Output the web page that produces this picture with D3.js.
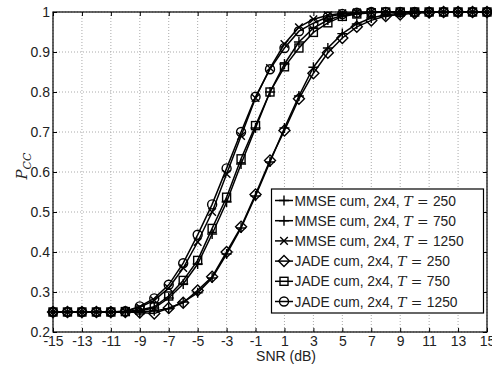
<!DOCTYPE html>
<html>
<head>
<meta charset="utf-8">
<script src="https://cdn.jsdelivr.net/npm/d3@7"></script>
<style>
body { margin: 0; background: #fff; }
text { font-family: "Liberation Sans", "DejaVu Sans", sans-serif; fill: #222; }
</style>
</head>
<body>
<script>
// SNR values (dB)
var snr = [-15,-14,-13,-12,-11,-10,-9,-8,-7,-6,-5,-4,-3,-2,-1,0,1,2,3,4,5,6,7,8,9,10,11,12,13,14,15];

var mmse250  = [0.25,0.25,0.25,0.25,0.25,0.25,0.25,0.253,0.258,0.275,0.298,0.335,0.395,0.46,0.54,0.625,0.71,0.79,0.862,0.91,0.946,0.97,0.985,0.993,0.997,0.999,1,1,1,1,1];
var mmse750  = [0.25,0.25,0.25,0.25,0.25,0.25,0.253,0.26,0.285,0.32,0.37,0.445,0.525,0.62,0.71,0.80,0.87,0.925,0.96,0.98,0.991,0.996,0.999,1,1,1,1,1,1,1,1];
var mmse1250 = [0.25,0.25,0.25,0.25,0.25,0.252,0.262,0.279,0.31,0.36,0.425,0.50,0.595,0.69,0.785,0.86,0.92,0.962,0.982,0.992,0.997,0.999,1,1,1,1,1,1,1,1,1];
var jade250  = [0.25,0.25,0.25,0.25,0.25,0.25,0.249,0.246,0.26,0.273,0.304,0.338,0.40,0.463,0.544,0.629,0.704,0.783,0.847,0.898,0.935,0.963,0.979,0.99,0.994,0.997,0.999,1,1,1,1];
var jade750  = [0.25,0.25,0.25,0.25,0.25,0.251,0.255,0.263,0.29,0.329,0.379,0.459,0.537,0.633,0.716,0.80,0.863,0.91,0.949,0.973,0.989,0.995,0.998,1,1,1,1,1,1,1,1];
var jade1250 = [0.25,0.25,0.25,0.25,0.25,0.252,0.264,0.284,0.318,0.372,0.443,0.519,0.609,0.70,0.788,0.857,0.91,0.952,0.972,0.988,0.995,0.998,1,1,1,1,1,1,1,1,1];

var seriesNames = ["MMSE cum, 2x4, ","MMSE cum, 2x4, ","MMSE cum, 2x4, ","JADE cum, 2x4, ","JADE cum, 2x4, ","JADE cum, 2x4, "];
var seriesT = ["250","750","1250","250","750","1250"];
var seriesMarkers = ["plus","plus","cross","diamond","square","circle"];
var seriesData = [mmse250, mmse750, mmse1250, jade250, jade750, jade1250];

var xTicks = [-15,-13,-11,-9,-7,-5,-3,-1,1,3,5,7,9,11,13,15];
var yTicks = [0.2,0.3,0.4,0.5,0.6,0.7,0.8,0.9,1];

var W = 492, H = 367;
var margin = {top: 12, right: 5, bottom: 35, left: 53};
var w = W - margin.left - margin.right, h = H - margin.top - margin.bottom;

var svg = d3.select("body").append("svg").attr("width", W).attr("height", H);
var g = svg.append("g").attr("transform", "translate(" + margin.left + "," + margin.top + ")");

var x = d3.scaleLinear().domain([-15, 15]).range([0, w]);
var y = d3.scaleLinear().domain([0.2, 1]).range([h, 0]);

// grid
g.selectAll(".gx").data(xTicks).enter().append("line")
  .attr("x1", d => x(d)).attr("x2", d => x(d)).attr("y1", 0).attr("y2", h)
  .attr("stroke", "#aaa").attr("stroke-width", 1).attr("stroke-dasharray", "1,2");
g.selectAll(".gy").data(yTicks).enter().append("line")
  .attr("y1", d => y(d)).attr("y2", d => y(d)).attr("x1", 0).attr("x2", w)
  .attr("stroke", "#aaa").attr("stroke-width", 1).attr("stroke-dasharray", "1,2");

// axes (ticks inward)
g.append("g").attr("transform", "translate(0," + h + ")")
  .call(d3.axisBottom(x).tickValues(xTicks).tickSize(-4).tickPadding(4).tickFormat(d => String(d)));
g.append("g")
  .call(d3.axisLeft(y).tickValues(yTicks).tickSize(-4).tickPadding(3).tickFormat(d => d === 1 ? "1" : d3.format(".1f")(d)));
g.append("g").call(d3.axisTop(x).tickValues(xTicks).tickSize(-4).tickFormat(""));
g.append("g").attr("transform", "translate(" + w + ",0)").call(d3.axisRight(y).tickValues(yTicks).tickSize(-4).tickFormat(""));
g.selectAll(".domain").attr("stroke", "none");
g.selectAll(".tick line").attr("stroke", "#000");
g.selectAll(".tick text").attr("font-size", 14).attr("fill", "#222")
  .style("font-family", '"Liberation Sans", sans-serif');

// frame
g.append("rect").attr("width", w).attr("height", h).attr("fill", "none").attr("stroke", "#000").attr("stroke-width", 1.2);

function marker(sel, type) {
  if (type === "circle") {
    sel.append("circle").attr("r", 4.5);
  } else if (type === "square") {
    sel.append("rect").attr("x", -4).attr("y", -4).attr("width", 8).attr("height", 8);
  } else if (type === "diamond") {
    sel.append("path").attr("d", "M0,-5.5L5.5,0L0,5.5L-5.5,0Z");
  } else if (type === "plus") {
    sel.append("path").attr("d", "M-5,0H5M0,-5V5");
  } else if (type === "cross") {
    sel.append("path").attr("d", "M-3.8,-3.8L3.8,3.8M-3.8,3.8L3.8,-3.8");
  }
  sel.selectAll("*").attr("fill", "none").attr("stroke", "#000").attr("stroke-width", 1.4);
}

var line = d3.line().x((d, i) => x(snr[i])).y(d => y(d));

seriesData.forEach(function(vals, k) {
  g.append("path").datum(vals).attr("d", line)
    .attr("fill", "none").attr("stroke", "#000").attr("stroke-width", 1.5);
  g.selectAll(".m" + k).data(vals).enter().append("g")
    .attr("transform", (d, i) => "translate(" + x(snr[i]) + "," + y(d) + ")")
    .each(function() { marker(d3.select(this), seriesMarkers[k]); });
});

// legend
var lg = svg.append("g");
lg.append("rect").attr("x", 271.5).attr("y", 189).attr("width", 212).attr("height", 124)
  .attr("fill", "#fff").attr("stroke", "#000").attr("stroke-width", 1.2);
seriesNames.forEach(function(nm, k) {
  var yy = 200.5 + k * 20.2;
  lg.append("line").attr("x1", 275).attr("x2", 293).attr("y1", yy).attr("y2", yy)
    .attr("stroke", "#000").attr("stroke-width", 1.5);
  var mg = lg.append("g").attr("transform", "translate(284," + yy + ")");
  marker(mg, seriesMarkers[k]);
  var t = lg.append("text").attr("x", 294.5).attr("y", yy + 5).attr("font-size", 13.8);
  t.append("tspan").text(nm);
  t.append("tspan").text("T").style("font-family", '"DejaVu Serif", serif').attr("font-style", "italic");
  t.append("tspan").text(" = ").style("font-family", '"DejaVu Serif", serif');
  t.append("tspan").text(seriesT[k]);
});

// axis labels
svg.append("text").attr("x", 286).attr("y", 361).attr("text-anchor", "middle").attr("font-size", 14).text("SNR (dB)");
var yl = svg.append("text").attr("transform", "translate(27,166) rotate(-90)").attr("text-anchor", "middle")
  .style("font-family", '"DejaVu Serif", serif').attr("font-style", "italic");
yl.append("tspan").attr("font-size", 15).text("P");
yl.append("tspan").attr("font-size", 11).attr("dy", 4).text("CC");
</script>
</body>
</html>
